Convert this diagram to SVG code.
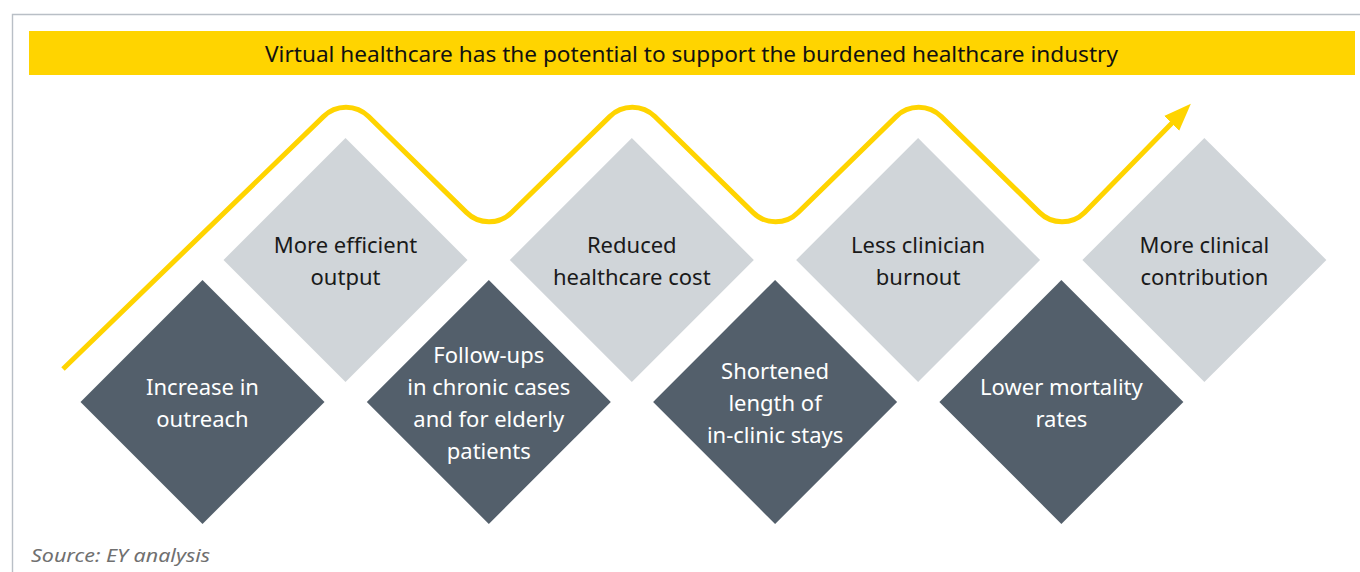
<svg xmlns="http://www.w3.org/2000/svg" width="1360" height="572" viewBox="0 0 1360 572">
  <style>
    .light { fill: #D0D5D9; }
    .dark { fill: #535F6B; }
    .lt { font-family: "Noto Sans", "Liberation Sans", sans-serif; font-size: 22px; fill: #1a1a1a; text-anchor: middle; }
    .dt { font-family: "Noto Sans", "Liberation Sans", sans-serif; font-size: 22px; fill: #ffffff; text-anchor: middle; }
    .title { font-family: "Noto Sans", "Liberation Sans", sans-serif; font-size: 21px; fill: #111111; text-anchor: middle; }
    .src { font-family: "Noto Sans", "Liberation Sans", sans-serif; font-size: 18px; font-style: italic; fill: #707070; }
    .wave { fill: none; stroke: #FFD400; stroke-width: 5; }
  </style>
  <defs>
    <marker id="ah" markerUnits="userSpaceOnUse" markerWidth="30" markerHeight="24" viewBox="0 0 30 22" refX="0.5" refY="11" orient="auto">
      <path d="M0,0.5 L27.5,11 L0,21.5 Z" fill="#FFD400"/>
    </marker>
  </defs>
  <rect width="1360" height="572" fill="#ffffff"/>
  <path d="M12.5,572 L12.5,14.5 L1360,14.5" fill="none" stroke="#B9BFC6" stroke-width="1.4"/>

  <g id="title">
    <rect x="29" y="31" width="1326" height="44" fill="#FFD400"/>
    <text class="title" x="691.5" y="62" textLength="853" lengthAdjust="spacingAndGlyphs">Virtual healthcare has the potential to support the burdened healthcare industry</text>
  </g>

  <g id="connectors">
    <path class="wave" marker-end="url(#ah)" d="M63,369 L323.4,116.6 A32,32 0 0 1 368.6,116.6 L466.4,212.4 A32,32 0 0 0 511.6,212.4 L609.7,116.6 A32,32 0 0 1 654.9,116.6 L752.9,212.4 A32,32 0 0 0 798.1,212.4 L896.1,116.6 A32,32 0 0 1 941.3,116.6 L1039.4,212.4 A32,32 0 0 0 1084.6,212.4 L1172,123"/>
  </g>

  <g id="node-more-efficient-output">
    <polygon class="light" points="345.5,138 467.5,260 345.5,382 223.5,260"/>
    <text class="lt" x="345.5" y="253">More efficient</text>
    <text class="lt" x="345.5" y="285">output</text>
  </g>
  <g id="node-reduced-healthcare-cost">
    <polygon class="light" points="631.8,138 753.8,260 631.8,382 509.8,260"/>
    <text class="lt" x="631.8" y="253">Reduced</text>
    <text class="lt" x="631.8" y="285">healthcare cost</text>
  </g>
  <g id="node-less-clinician-burnout">
    <polygon class="light" points="918.1,138 1040.1,260 918.1,382 796.1,260"/>
    <text class="lt" x="918.1" y="253">Less clinician</text>
    <text class="lt" x="918.1" y="285">burnout</text>
  </g>
  <g id="node-more-clinical-contribution">
    <polygon class="light" points="1204.4,138 1326.4,260 1204.4,382 1082.4,260"/>
    <text class="lt" x="1204.4" y="253">More clinical</text>
    <text class="lt" x="1204.4" y="285">contribution</text>
  </g>

  <g id="node-increase-in-outreach">
    <polygon class="dark" points="202.5,280 324.5,402 202.5,524 80.5,402"/>
    <text class="dt" x="202.5" y="395">Increase in</text>
    <text class="dt" x="202.5" y="427">outreach</text>
  </g>
  <g id="node-follow-ups">
    <polygon class="dark" points="488.8,280 610.8,402 488.8,524 366.8,402"/>
    <text class="dt" x="488.8" y="363">Follow-ups</text>
    <text class="dt" x="488.8" y="395">in chronic cases</text>
    <text class="dt" x="488.8" y="427">and for elderly</text>
    <text class="dt" x="488.8" y="458.5">patients</text>
  </g>
  <g id="node-shortened-stays">
    <polygon class="dark" points="775.1,280 897.1,402 775.1,524 653.1,402"/>
    <text class="dt" x="775.1" y="379">Shortened</text>
    <text class="dt" x="775.1" y="411">length of</text>
    <text class="dt" x="775.1" y="443">in-clinic stays</text>
  </g>
  <g id="node-lower-mortality-rates">
    <polygon class="dark" points="1061.4,280 1183.4,402 1061.4,524 939.4,402"/>
    <text class="dt" x="1061.4" y="395">Lower mortality</text>
    <text class="dt" x="1061.4" y="427">rates</text>
  </g>

  <text class="src" x="31" y="562" textLength="179" lengthAdjust="spacingAndGlyphs">Source: EY analysis</text>
</svg>
